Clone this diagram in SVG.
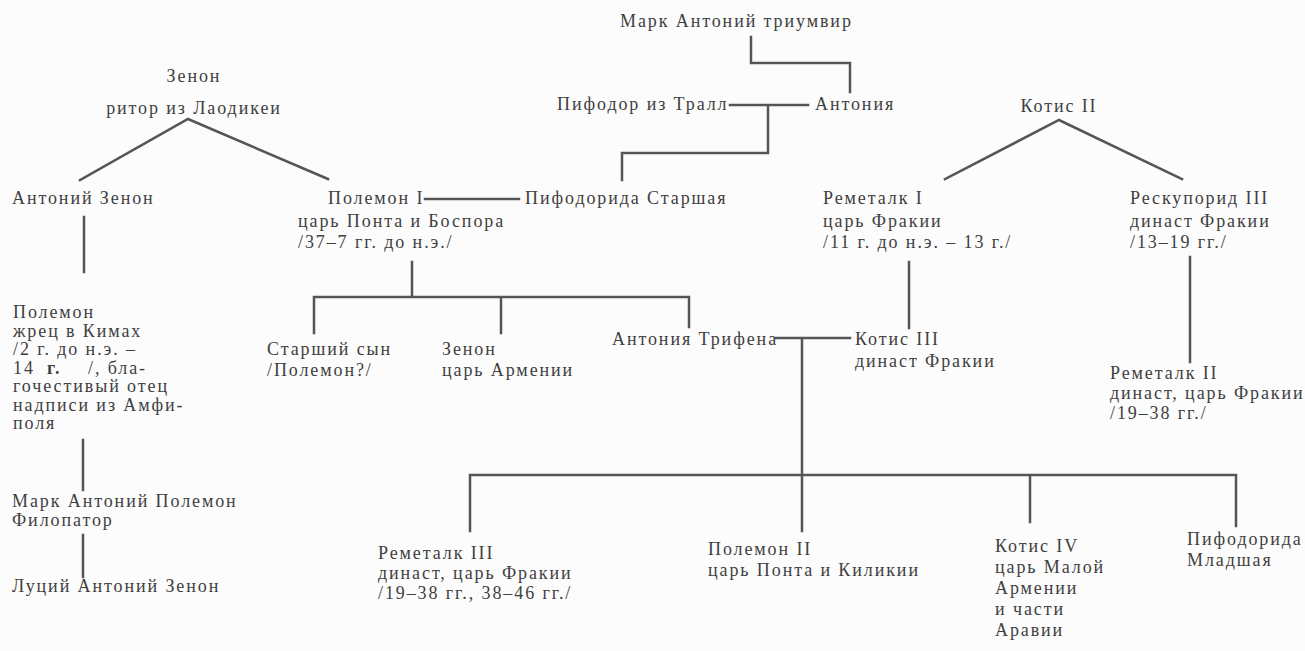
<svg xmlns="http://www.w3.org/2000/svg" width="1305" height="651" viewBox="0 0 1305 651">
<style>
.t{font-family:"Liberation Serif","DejaVu Serif","Times New Roman",serif;font-size:18px;fill:#3f3f3f;letter-spacing:1.9px}
.m{text-anchor:middle}
.c{stroke:#555;stroke-width:2.5;fill:none;stroke-linecap:square}
</style>
<rect width="1305" height="651" fill="#fcfcfc"/>
<g id="connectors">
<path class="c" d="M751 37V63H850V92"/>
<path class="c" d="M730 105H808M768 105V153H622V180"/>
<path class="c" d="M80 180L188 119L328 179"/>
<path class="c" d="M945 179L1059 120L1182 179"/>
<path class="c" d="M425 199H519"/>
<path class="c" d="M84 217V272M83 440V490M83 535V577"/>
<path class="c" d="M412 262V297M314 333V297H689V327M501 297V333"/>
<path class="c" d="M776 338H850M802 338V531"/>
<path class="c" d="M909 262V328"/>
<path class="c" d="M1190 257V362"/>
<path class="c" d="M470 531V475H1236V526M1030 475V522"/>
</g>
<g id="n-mark-antony"><text class="t" x="620" y="27">Марк Антоний триумвир</text></g>
<g id="n-pifodor"><text class="t" x="557" y="110">Пифодор из Тралл</text></g>
<g id="n-antonia"><text class="t" x="815" y="110">Антония</text></g>
<g id="n-zenon-rhetor"><text class="t m" x="194" y="82">Зенон</text><text class="t m" x="194" y="114">ритор из Лаодикеи</text></g>
<g id="n-kotis2"><text class="t m" x="1059" y="112">Котис II</text></g>
<g id="n-antoniy-zenon"><text class="t" x="12" y="204">Антоний Зенон</text></g>
<g id="n-polemon1"><text class="t" x="328" y="204">Полемон I</text><text class="t" x="298" y="227">царь Понта и Боспора</text><text class="t" x="298" y="248">/37–7 гг. до н.э./</text></g>
<g id="n-pifodorida-st"><text class="t" x="525" y="204">Пифодорида Старшая</text></g>
<g id="n-remetalk1"><text class="t" x="823" y="204">Реметалк I</text><text class="t" x="823" y="227">царь Фракии</text><text class="t" x="823" y="248">/11 г. до н.э. – 13 г./</text></g>
<g id="n-reskuporid3"><text class="t" x="1130" y="204">Рескупорид III</text><text class="t" x="1130" y="227">династ Фракии</text><text class="t" x="1130" y="248">/13–19 гг./</text></g>
<g id="n-polemon-priest">
<text class="t" x="13" y="318">Полемон</text>
<text class="t" x="13" y="337">жрец в Кимах</text>
<text class="t" x="13" y="355">/2 г. до н.э. –</text>
<text class="t" x="13" y="374"><tspan>14</tspan><tspan x="47" font-weight="bold">г.</tspan><tspan x="88">/, бла-</tspan></text>
<text class="t" x="13" y="392">гочестивый отец</text>
<text class="t" x="13" y="411">надписи из Амфи-</text>
<text class="t" x="13" y="429">поля</text>
</g>
<g id="n-mark-polemon"><text class="t" x="12" y="507">Марк Антоний Полемон</text><text class="t" x="12" y="526">Филопатор</text></g>
<g id="n-lucius"><text class="t" x="12" y="592">Луций Антоний Зенон</text></g>
<g id="n-elder-son"><text class="t" x="267" y="355">Старший сын</text><text class="t" x="267" y="376">/Полемон?/</text></g>
<g id="n-zenon-armenia"><text class="t" x="442" y="355">Зенон</text><text class="t" x="442" y="376">царь Армении</text></g>
<g id="n-trifena"><text class="t" x="612" y="345">Антония Трифена</text></g>
<g id="n-kotis3"><text class="t" x="855" y="345">Котис III</text><text class="t" x="855" y="367">династ Фракии</text></g>
<g id="n-remetalk2"><text class="t" x="1110" y="379">Реметалк II</text><text class="t" x="1110" y="399">династ, царь Фракии</text><text class="t" x="1110" y="419">/19–38 гг./</text></g>
<g id="n-remetalk3"><text class="t" x="378" y="559">Реметалк III</text><text class="t" x="378" y="579">династ, царь Фракии</text><text class="t" x="378" y="599">/19–38 гг., 38–46 гг./</text></g>
<g id="n-polemon2"><text class="t" x="708" y="555">Полемон II</text><text class="t" x="708" y="576">царь Понта и Киликии</text></g>
<g id="n-kotis4"><text class="t" x="995" y="552">Котис IV</text><text class="t" x="995" y="573">царь Малой</text><text class="t" x="995" y="594">Армении</text><text class="t" x="995" y="615">и части</text><text class="t" x="995" y="636">Аравии</text></g>
<g id="n-pifodorida-ml"><text class="t" x="1187" y="545">Пифодорида</text><text class="t" x="1187" y="566">Младшая</text></g>
</svg>
